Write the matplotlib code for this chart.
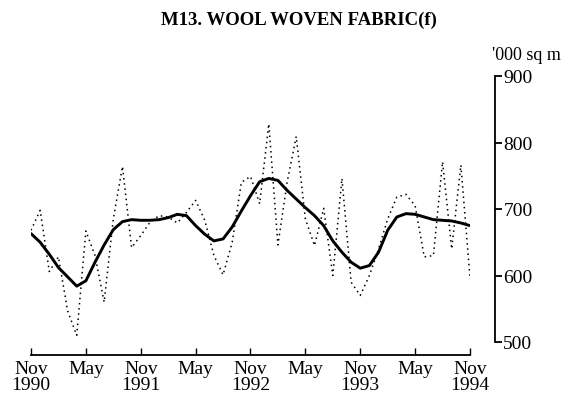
import matplotlib
matplotlib.use("Agg")
import matplotlib.pyplot as plt
import numpy as np

# monthly series, Nov 1990 .. Nov 1994
original = [668, 698, 606, 628, 547, 510, 667, 630, 560, 685,
            764, 642, 660, 680, 690, 688, 679, 695, 713, 683,
            630, 601, 650, 740, 749, 708, 828, 646, 740, 809,
            685, 645, 701, 600, 746, 590, 570, 600, 640, 685,
            718, 722, 705, 628, 630, 771, 640, 766, 597]
trend = [663, 650, 632, 612, 598, 584, 592, 620, 646, 669,
         681, 684, 683, 683, 684, 687, 692, 690, 675, 662,
         652, 655, 673, 697, 720, 741, 746, 743, 728, 715,
         702, 690, 675, 652, 635, 620, 611, 615, 635, 668,
         688, 693, 692, 688, 684, 683, 682, 679, 675]
tick_labels = ["Nov\n1990", "May", "Nov\n1991", "May", "Nov\n1992",
               "May", "Nov\n1993", "May", "Nov\n1994"]
y_ticks = [500, 600, 700, 800, 900]

plt.rcParams['font.family'] = ['Liberation Serif', 'DejaVu Serif']

W, H = 576, 410
fig = plt.figure(figsize=(W / 100, H / 100), dpi=100)
ax = fig.add_axes([31 / W, (H - 343) / H, (470 - 31) / W, (343 - 77) / H])

months = np.arange(len(original))
ax.plot(months, original, color='black', lw=1.1, linestyle=(0, (1, 2.4)))
ax.plot(months, trend, color='black', lw=2.1, solid_capstyle='round')

ax.set_xlim(0, len(original) - 1)
ax.set_ylim(500, 900)

ax.spines['top'].set_visible(False)
ax.spines['left'].set_visible(False)
ax.spines['bottom'].set_position(('outward', 9))
ax.spines['right'].set_position(('outward', 18))
ax.spines['bottom'].set_linewidth(1.3)
ax.spines['right'].set_linewidth(1.3)

ax.yaxis.tick_right()
ax.set_yticks(y_ticks)
ax.tick_params(axis='y', direction='out', length=5, width=1.3, labelsize=14, pad=1)

ax.set_xticks(np.arange(0, len(original), 6))
ax.set_xticklabels(tick_labels, linespacing=0.95)
ax.tick_params(axis='x', direction='in', length=5, width=1.0, labelsize=14, pad=4)

fig.text(299 / W, 1 - 20 / H, "M13. WOOL WOVEN FABRIC(f)", ha='center', va='center',
         fontsize=13.5, fontweight='bold')
fig.text(492 / W, 1 - 55 / H, "'000 sq m", ha='left', va='center', fontsize=13)

fig.savefig("out.png", dpi=100)
